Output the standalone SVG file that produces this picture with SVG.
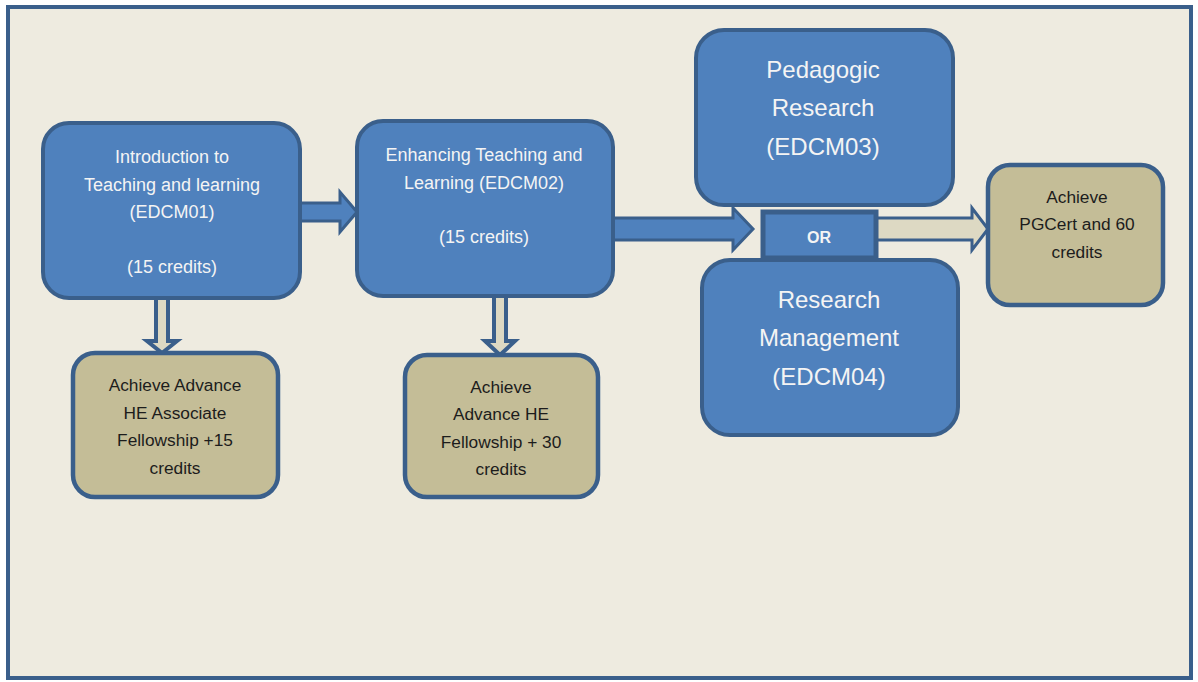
<svg xmlns="http://www.w3.org/2000/svg" width="1198" height="682" viewBox="0 0 1198 682">
<defs>
<style>
.bg{fill:#eeebe0;stroke:#3a5f8b;stroke-width:4}
.blue{fill:#4f81bd;stroke:#3a5f8b;stroke-width:4}
.tan{fill:#c4bd97;stroke:#3a5f8b;stroke-width:4.5}
.arrB{fill:#4f81bd;stroke:#3a5f8b;stroke-width:3;stroke-linejoin:miter}
.arrT{fill:#ddd9c3;stroke:#3a5f8b;stroke-width:3;stroke-linejoin:miter}
.arrD{fill:#ddd9c3;stroke:#3a5f8b;stroke-width:4;stroke-linejoin:miter}
.wt{font-family:"Liberation Sans",Arial,sans-serif;fill:#f4f4f4;text-anchor:middle}
.dt{font-family:"Liberation Sans",Arial,sans-serif;fill:#1c1c1c;text-anchor:middle;font-size:17.3px}
.s{font-size:18px}
.l{font-size:24px}
</style>
</defs>
<rect class="bg" x="8" y="7" width="1183" height="671"/>
<g id="connectors">
<polygon class="arrB" points="300,203 340,203 340,192 357,212 340,232 340,221 300,221"/>
<polygon class="arrB" points="613,218 733,218 733,208 753,229 733,250 733,240 613,240"/>
<polygon class="arrT" points="876,218 972,218 972,208 988,229 972,250 972,240 876,240"/>
<polygon class="arrD" points="156,298 168,298 168,341 177,341 162,353 147,341 156,341"/>
<polygon class="arrD" points="494,296 506,296 506,341 515,341 500,355 485,341 494,341"/>
</g>
<g id="edcm01">
<rect class="blue" x="43" y="123" width="257" height="175" rx="26"/>
<text class="wt s" x="172" y="163">Introduction to</text>
<text class="wt s" x="172" y="191">Teaching and learning</text>
<text class="wt s" x="172" y="218">(EDCM01)</text>
<text class="wt s" x="172" y="273">(15 credits)</text>
</g>
<g id="edcm02">
<rect class="blue" x="357" y="121" width="256" height="175" rx="26"/>
<text class="wt s" x="484" y="161">Enhancing Teaching and</text>
<text class="wt s" x="484" y="189">Learning (EDCM02)</text>
<text class="wt s" x="484" y="243">(15 credits)</text>
</g>
<g id="edcm03">
<rect class="blue" x="696" y="30" width="257" height="175" rx="28"/>
<text class="wt l" x="823" y="78">Pedagogic</text>
<text class="wt l" x="823" y="116">Research</text>
<text class="wt l" x="823" y="155">(EDCM03)</text>
</g>
<g id="edcm04">
<rect class="blue" x="702" y="260" width="256" height="175" rx="28"/>
<text class="wt l" x="829" y="308">Research</text>
<text class="wt l" x="829" y="346">Management</text>
<text class="wt l" x="829" y="385">(EDCM04)</text>
</g>
<g id="or">
<rect x="763" y="212" width="113" height="46" fill="#4f81bd" stroke="#3a5f8b" stroke-width="5"/>
<text class="wt" x="819" y="243" font-size="16" font-weight="bold">OR</text>
</g>
<g id="pgcert">
<rect class="tan" x="988" y="165" width="175" height="140" rx="22"/>
<text class="dt" x="1077" y="203">Achieve</text>
<text class="dt" x="1077" y="230">PGCert and 60</text>
<text class="dt" x="1077" y="258">credits</text>
</g>
<g id="associate">
<rect class="tan" x="73" y="353" width="205" height="144" rx="22"/>
<text class="dt" x="175" y="391">Achieve Advance</text>
<text class="dt" x="175" y="419">HE Associate</text>
<text class="dt" x="175" y="446">Fellowship +15</text>
<text class="dt" x="175" y="474">credits</text>
</g>
<g id="fellowship">
<rect class="tan" x="405" y="355" width="193" height="142" rx="22"/>
<text class="dt" x="501" y="393">Achieve</text>
<text class="dt" x="501" y="420">Advance HE</text>
<text class="dt" x="501" y="448">Fellowship + 30</text>
<text class="dt" x="501" y="475">credits</text>
</g>
</svg>
